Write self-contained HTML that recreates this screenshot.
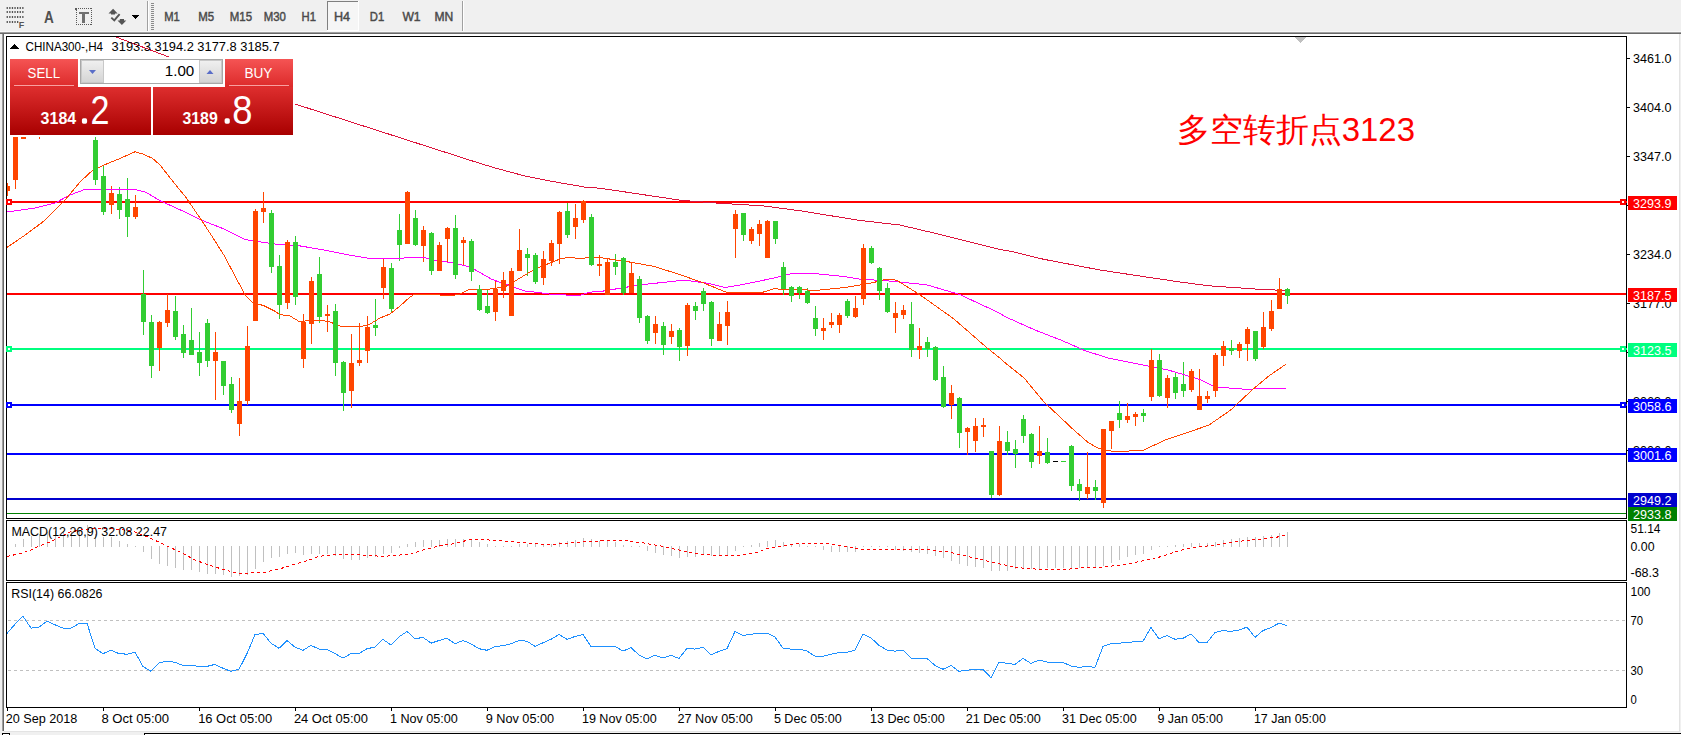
<!DOCTYPE html>
<html><head><meta charset="utf-8"><style>
html,body{margin:0;padding:0;background:#f0f0f0;}
body{width:1681px;height:735px;overflow:hidden;}
svg{display:block;font-family:'Liberation Sans',sans-serif;}
text{font-family:'Liberation Sans',sans-serif;}
</style></head><body>
<svg width="1681" height="735" viewBox="0 0 1681 735" shape-rendering="crispEdges">
<rect x="0" y="0" width="1681" height="735" fill="#f0f0f0" />
<rect x="4" y="34" width="1675" height="697" fill="#ffffff" />
<rect x="2" y="34" width="1" height="697" fill="#a0a0a0" />
<rect x="3" y="34" width="1" height="697" fill="#696969" />
<rect x="0" y="31" width="1681" height="1" fill="#f8f8f8" />
<rect x="0" y="32" width="1681" height="1" fill="#a0a0a0" />
<rect x="0" y="33" width="1681" height="1" fill="#696969" />
<rect x="1679" y="34" width="1" height="697" fill="#e3e3e3" />
<rect x="4" y="731" width="1676" height="1" fill="#e3e3e3" />
<rect x="0" y="732" width="1681" height="3" fill="#f0f0f0" />
<rect x="2" y="733" width="8" height="1" fill="#000" />
<rect x="2" y="733" width="1" height="2" fill="#000" />
<rect x="9" y="733" width="1" height="2" fill="#000" />
<rect x="3" y="734" width="6" height="1" fill="#fff" />
<rect x="144" y="733" width="1537" height="1" fill="#000" />
<rect x="144" y="733" width="1" height="2" fill="#000" />
<rect x="145" y="734" width="1536" height="1" fill="#fff" />
<rect x="6.6" y="7" width="1.3" height="2" fill="#555" shape-rendering="auto"/>
<rect x="9.2" y="7" width="1.3" height="2" fill="#555" shape-rendering="auto"/>
<rect x="11.8" y="7" width="1.3" height="2" fill="#555" shape-rendering="auto"/>
<rect x="14.4" y="7" width="1.3" height="2" fill="#555" shape-rendering="auto"/>
<rect x="17.0" y="7" width="1.3" height="2" fill="#555" shape-rendering="auto"/>
<rect x="19.6" y="7" width="1.3" height="2" fill="#555" shape-rendering="auto"/>
<rect x="22.2" y="7" width="1.3" height="2" fill="#555" shape-rendering="auto"/>
<rect x="6.6" y="11" width="1.3" height="2" fill="#555" shape-rendering="auto"/>
<rect x="9.2" y="11" width="1.3" height="2" fill="#555" shape-rendering="auto"/>
<rect x="11.8" y="11" width="1.3" height="2" fill="#555" shape-rendering="auto"/>
<rect x="14.4" y="11" width="1.3" height="2" fill="#555" shape-rendering="auto"/>
<rect x="17.0" y="11" width="1.3" height="2" fill="#555" shape-rendering="auto"/>
<rect x="19.6" y="11" width="1.3" height="2" fill="#555" shape-rendering="auto"/>
<rect x="22.2" y="11" width="1.3" height="2" fill="#555" shape-rendering="auto"/>
<rect x="6.6" y="16" width="1.3" height="2" fill="#555" shape-rendering="auto"/>
<rect x="9.2" y="16" width="1.3" height="2" fill="#555" shape-rendering="auto"/>
<rect x="11.8" y="16" width="1.3" height="2" fill="#555" shape-rendering="auto"/>
<rect x="14.4" y="16" width="1.3" height="2" fill="#555" shape-rendering="auto"/>
<rect x="17.0" y="16" width="1.3" height="2" fill="#555" shape-rendering="auto"/>
<rect x="19.6" y="16" width="1.3" height="2" fill="#555" shape-rendering="auto"/>
<rect x="22.2" y="16" width="1.3" height="2" fill="#555" shape-rendering="auto"/>
<rect x="6.6" y="21" width="1.3" height="2" fill="#555" shape-rendering="auto"/>
<rect x="9.2" y="21" width="1.3" height="2" fill="#555" shape-rendering="auto"/>
<rect x="11.8" y="21" width="1.3" height="2" fill="#555" shape-rendering="auto"/>
<rect x="14.4" y="21" width="1.3" height="2" fill="#555" shape-rendering="auto"/>
<rect x="17.0" y="21" width="1.3" height="2" fill="#555" shape-rendering="auto"/>
<text x="18.8" y="27.6" font-size="9.5" fill="#555" textLength="5.5" lengthAdjust="spacingAndGlyphs" font-weight="bold" >F</text>
<text x="44" y="22.8" font-size="16.3" fill="#505050" textLength="9.8" lengthAdjust="spacingAndGlyphs" font-weight="bold" >A</text>
<rect x="76" y="8" width="1" height="1.3" fill="#5a5a5a" />
<rect x="76" y="24" width="1" height="1.3" fill="#5a5a5a" />
<rect x="78" y="8" width="1" height="1.3" fill="#5a5a5a" />
<rect x="78" y="24" width="1" height="1.3" fill="#5a5a5a" />
<rect x="80" y="8" width="1" height="1.3" fill="#5a5a5a" />
<rect x="80" y="24" width="1" height="1.3" fill="#5a5a5a" />
<rect x="82" y="8" width="1" height="1.3" fill="#5a5a5a" />
<rect x="82" y="24" width="1" height="1.3" fill="#5a5a5a" />
<rect x="84" y="8" width="1" height="1.3" fill="#5a5a5a" />
<rect x="84" y="24" width="1" height="1.3" fill="#5a5a5a" />
<rect x="86" y="8" width="1" height="1.3" fill="#5a5a5a" />
<rect x="86" y="24" width="1" height="1.3" fill="#5a5a5a" />
<rect x="88" y="8" width="1" height="1.3" fill="#5a5a5a" />
<rect x="88" y="24" width="1" height="1.3" fill="#5a5a5a" />
<rect x="90" y="8" width="1" height="1.3" fill="#5a5a5a" />
<rect x="90" y="24" width="1" height="1.3" fill="#5a5a5a" />
<rect x="76" y="8" width="1.3" height="1" fill="#5a5a5a" />
<rect x="90.5" y="8" width="1.3" height="1" fill="#5a5a5a" />
<rect x="76" y="10" width="1.3" height="1" fill="#5a5a5a" />
<rect x="90.5" y="10" width="1.3" height="1" fill="#5a5a5a" />
<rect x="76" y="12" width="1.3" height="1" fill="#5a5a5a" />
<rect x="90.5" y="12" width="1.3" height="1" fill="#5a5a5a" />
<rect x="76" y="14" width="1.3" height="1" fill="#5a5a5a" />
<rect x="90.5" y="14" width="1.3" height="1" fill="#5a5a5a" />
<rect x="76" y="16" width="1.3" height="1" fill="#5a5a5a" />
<rect x="90.5" y="16" width="1.3" height="1" fill="#5a5a5a" />
<rect x="76" y="18" width="1.3" height="1" fill="#5a5a5a" />
<rect x="90.5" y="18" width="1.3" height="1" fill="#5a5a5a" />
<rect x="76" y="20" width="1.3" height="1" fill="#5a5a5a" />
<rect x="90.5" y="20" width="1.3" height="1" fill="#5a5a5a" />
<rect x="76" y="22" width="1.3" height="1" fill="#5a5a5a" />
<rect x="90.5" y="22" width="1.3" height="1" fill="#5a5a5a" />
<rect x="76" y="24" width="1.3" height="1" fill="#5a5a5a" />
<rect x="90.5" y="24" width="1.3" height="1" fill="#5a5a5a" />
<rect x="75" y="7.5" width="2" height="2" fill="#5a5a5a" />
<rect x="78.5" y="12" width="10" height="2" fill="#707070" />
<rect x="82.3" y="12" width="2.8" height="10.5" fill="#707070" />
<path d="M108.5 13.6 L113.1 8.8 L117.6 13.6 L115 13.6 L115 14.6 L111 14.6 L111 13.6 Z" fill="#555" shape-rendering="auto"/>
<path d="M119.8 18.9 L124 18.9 L124 20.4 L126.3 20.4 L121.9 25 L117.5 20.4 L119.8 20.4 Z" fill="#555" shape-rendering="auto"/>
<path d="M111.3 17.6 L114.3 20.4 L119.6 14.1" stroke="#555" stroke-width="1.9" fill="none" shape-rendering="auto"/>
<path d="M132 15 L139 15 L135.5 19 Z" fill="#000"/>
<rect x="147" y="1" width="1" height="30" fill="#a0a0a0" />
<rect x="148" y="1" width="1" height="30" fill="#ffffff" />
<rect x="151" y="3" width="3" height="1" fill="#8a8a8a" />
<rect x="151" y="5" width="3" height="1" fill="#8a8a8a" />
<rect x="151" y="7" width="3" height="1" fill="#8a8a8a" />
<rect x="151" y="9" width="3" height="1" fill="#8a8a8a" />
<rect x="151" y="11" width="3" height="1" fill="#8a8a8a" />
<rect x="151" y="13" width="3" height="1" fill="#8a8a8a" />
<rect x="151" y="15" width="3" height="1" fill="#8a8a8a" />
<rect x="151" y="17" width="3" height="1" fill="#8a8a8a" />
<rect x="151" y="19" width="3" height="1" fill="#8a8a8a" />
<rect x="151" y="21" width="3" height="1" fill="#8a8a8a" />
<rect x="151" y="23" width="3" height="1" fill="#8a8a8a" />
<rect x="151" y="25" width="3" height="1" fill="#8a8a8a" />
<rect x="151" y="27" width="3" height="1" fill="#8a8a8a" />
<rect x="151" y="29" width="3" height="1" fill="#8a8a8a" />
<rect x="327" y="1" width="31" height="29" fill="#f6f6f6" />
<rect x="327" y="1" width="31" height="1" fill="#808080" />
<rect x="327" y="1" width="1" height="29" fill="#808080" />
<rect x="327" y="30" width="32" height="1" fill="#ffffff" />
<rect x="358" y="1" width="1" height="30" fill="#ffffff" />
<text x="164.2" y="21.3" font-size="12.5" fill="#4a4a4a" textLength="15.6" lengthAdjust="spacingAndGlyphs" stroke="#4a4a4a" stroke-width="0.45">M1</text>
<text x="198.3" y="21.3" font-size="12.5" fill="#4a4a4a" textLength="15.9" lengthAdjust="spacingAndGlyphs" stroke="#4a4a4a" stroke-width="0.45">M5</text>
<text x="229.8" y="21.3" font-size="12.5" fill="#4a4a4a" textLength="22.3" lengthAdjust="spacingAndGlyphs" stroke="#4a4a4a" stroke-width="0.45">M15</text>
<text x="263.75" y="21.3" font-size="12.5" fill="#4a4a4a" textLength="22.2" lengthAdjust="spacingAndGlyphs" stroke="#4a4a4a" stroke-width="0.45">M30</text>
<text x="301.6" y="21.3" font-size="12.5" fill="#4a4a4a" textLength="14.4" lengthAdjust="spacingAndGlyphs" stroke="#4a4a4a" stroke-width="0.45">H1</text>
<text x="333.9" y="21.3" font-size="12.5" fill="#4a4a4a" textLength="16.1" lengthAdjust="spacingAndGlyphs" stroke="#4a4a4a" stroke-width="0.45">H4</text>
<text x="369.8" y="21.3" font-size="12.5" fill="#4a4a4a" textLength="14.4" lengthAdjust="spacingAndGlyphs" stroke="#4a4a4a" stroke-width="0.45">D1</text>
<text x="402.4" y="21.3" font-size="12.5" fill="#4a4a4a" textLength="18.2" lengthAdjust="spacingAndGlyphs" stroke="#4a4a4a" stroke-width="0.45">W1</text>
<text x="434.5" y="21.3" font-size="12.5" fill="#4a4a4a" textLength="18.8" lengthAdjust="spacingAndGlyphs" stroke="#4a4a4a" stroke-width="0.45">MN</text>
<rect x="462" y="1" width="1" height="30" fill="#a0a0a0" />
<rect x="463" y="1" width="1" height="30" fill="#ffffff" />
<rect x="6.5" y="36.5" width="1620" height="482" fill="#fff" stroke="#000" stroke-width="1"/>
<rect x="6.5" y="520.5" width="1620" height="60" fill="#fff" stroke="#000" stroke-width="1"/>
<rect x="6.5" y="582.5" width="1620" height="125" fill="#fff" stroke="#000" stroke-width="1"/>
<defs><clipPath id="cm"><rect x="7" y="37" width="1619" height="481"/></clipPath><clipPath id="cd"><rect x="7" y="521" width="1619" height="59"/></clipPath><clipPath id="cr"><rect x="7" y="583" width="1619" height="124"/></clipPath></defs>
<g clip-path="url(#cm)">
<rect x="7" y="201" width="1619" height="2" fill="#ff0000" />
<rect x="7" y="293" width="1619" height="2" fill="#ff0000" />
<rect x="7" y="348" width="1619" height="2" fill="#00ff7f" />
<rect x="7" y="404" width="1619" height="2" fill="#0000ff" />
<rect x="7" y="453" width="1619" height="2" fill="#0000ff" />
<rect x="7" y="498" width="1619" height="2" fill="#0000cd" />
<rect x="7" y="513" width="1619" height="1" fill="#008000" />
<rect x="7" y="183" width="1" height="13" fill="#ff4500" />
<rect x="15" y="137" width="1" height="52" fill="#ff4500" />
<rect x="23" y="118" width="1" height="21" fill="#ff4500" />
<rect x="39" y="118" width="1" height="21" fill="#ff4500" />
<rect x="95" y="137" width="1" height="48" fill="#32cd32" />
<rect x="103" y="165" width="1" height="50" fill="#32cd32" />
<rect x="111" y="186" width="1" height="28" fill="#ff4500" />
<rect x="119" y="187" width="1" height="32" fill="#32cd32" />
<rect x="127" y="178" width="1" height="59" fill="#32cd32" />
<rect x="135" y="195" width="1" height="24" fill="#ff4500" />
<rect x="143" y="270" width="1" height="65" fill="#32cd32" />
<rect x="151" y="315" width="1" height="63" fill="#32cd32" />
<rect x="159" y="321" width="1" height="50" fill="#ff4500" />
<rect x="167" y="294" width="1" height="33" fill="#ff4500" />
<rect x="175" y="296" width="1" height="44" fill="#32cd32" />
<rect x="183" y="325" width="1" height="33" fill="#32cd32" />
<rect x="191" y="308" width="1" height="47" fill="#32cd32" />
<rect x="199" y="332" width="1" height="44" fill="#32cd32" />
<rect x="207" y="319" width="1" height="48" fill="#32cd32" />
<rect x="215" y="332" width="1" height="68" fill="#ff4500" />
<rect x="223" y="361" width="1" height="34" fill="#32cd32" />
<rect x="231" y="377" width="1" height="36" fill="#32cd32" />
<rect x="239" y="378" width="1" height="58" fill="#ff4500" />
<rect x="247" y="326" width="1" height="79" fill="#ff4500" />
<rect x="255" y="209" width="1" height="112" fill="#ff4500" />
<rect x="263" y="192" width="1" height="31" fill="#ff4500" />
<rect x="271" y="210" width="1" height="63" fill="#32cd32" />
<rect x="279" y="255" width="1" height="64" fill="#32cd32" />
<rect x="287" y="240" width="1" height="69" fill="#ff4500" />
<rect x="295" y="236" width="1" height="69" fill="#32cd32" />
<rect x="303" y="314" width="1" height="54" fill="#ff4500" />
<rect x="311" y="277" width="1" height="67" fill="#ff4500" />
<rect x="319" y="257" width="1" height="66" fill="#32cd32" />
<rect x="327" y="305" width="1" height="27" fill="#ff4500" />
<rect x="335" y="304" width="1" height="72" fill="#32cd32" />
<rect x="343" y="361" width="1" height="50" fill="#32cd32" />
<rect x="351" y="334" width="1" height="74" fill="#ff4500" />
<rect x="359" y="323" width="1" height="43" fill="#ff4500" />
<rect x="367" y="316" width="1" height="47" fill="#ff4500" />
<rect x="375" y="299" width="1" height="37" fill="#32cd32" />
<rect x="383" y="258" width="1" height="41" fill="#ff4500" />
<rect x="391" y="263" width="1" height="49" fill="#32cd32" />
<rect x="399" y="214" width="1" height="47" fill="#32cd32" />
<rect x="407" y="191" width="1" height="53" fill="#ff4500" />
<rect x="415" y="210" width="1" height="36" fill="#32cd32" />
<rect x="423" y="226" width="1" height="36" fill="#ff4500" />
<rect x="431" y="232" width="1" height="43" fill="#32cd32" />
<rect x="439" y="242" width="1" height="29" fill="#ff4500" />
<rect x="447" y="227" width="1" height="35" fill="#ff4500" />
<rect x="455" y="215" width="1" height="64" fill="#32cd32" />
<rect x="463" y="237" width="1" height="29" fill="#ff4500" />
<rect x="471" y="239" width="1" height="42" fill="#32cd32" />
<rect x="479" y="285" width="1" height="26" fill="#32cd32" />
<rect x="487" y="290" width="1" height="24" fill="#32cd32" />
<rect x="495" y="281" width="1" height="40" fill="#ff4500" />
<rect x="503" y="272" width="1" height="26" fill="#ff4500" />
<rect x="511" y="268" width="1" height="48" fill="#ff4500" />
<rect x="519" y="229" width="1" height="42" fill="#ff4500" />
<rect x="527" y="248" width="1" height="28" fill="#32cd32" />
<rect x="535" y="253" width="1" height="31" fill="#32cd32" />
<rect x="543" y="251" width="1" height="34" fill="#ff4500" />
<rect x="551" y="240" width="1" height="26" fill="#ff4500" />
<rect x="559" y="211" width="1" height="53" fill="#ff4500" />
<rect x="567" y="203" width="1" height="35" fill="#32cd32" />
<rect x="575" y="204" width="1" height="35" fill="#ff4500" />
<rect x="583" y="200" width="1" height="23" fill="#ff4500" />
<rect x="591" y="214" width="1" height="52" fill="#32cd32" />
<rect x="599" y="255" width="1" height="21" fill="#ff4500" />
<rect x="607" y="258" width="1" height="37" fill="#ff4500" />
<rect x="615" y="254" width="1" height="21" fill="#32cd32" />
<rect x="623" y="257" width="1" height="38" fill="#32cd32" />
<rect x="631" y="263" width="1" height="30" fill="#ff4500" />
<rect x="639" y="276" width="1" height="47" fill="#32cd32" />
<rect x="647" y="315" width="1" height="29" fill="#32cd32" />
<rect x="655" y="316" width="1" height="28" fill="#ff4500" />
<rect x="663" y="322" width="1" height="33" fill="#32cd32" />
<rect x="671" y="324" width="1" height="20" fill="#ff4500" />
<rect x="679" y="328" width="1" height="33" fill="#32cd32" />
<rect x="687" y="303" width="1" height="53" fill="#ff4500" />
<rect x="695" y="302" width="1" height="18" fill="#32cd32" />
<rect x="703" y="288" width="1" height="23" fill="#32cd32" />
<rect x="711" y="301" width="1" height="45" fill="#32cd32" />
<rect x="719" y="312" width="1" height="29" fill="#ff4500" />
<rect x="727" y="301" width="1" height="44" fill="#ff4500" />
<rect x="735" y="210" width="1" height="48" fill="#ff4500" />
<rect x="743" y="213" width="1" height="28" fill="#32cd32" />
<rect x="751" y="227" width="1" height="17" fill="#ff4500" />
<rect x="759" y="220" width="1" height="26" fill="#ff4500" />
<rect x="767" y="220" width="1" height="38" fill="#ff4500" />
<rect x="775" y="221" width="1" height="23" fill="#32cd32" />
<rect x="783" y="262" width="1" height="33" fill="#32cd32" />
<rect x="791" y="286" width="1" height="16" fill="#32cd32" />
<rect x="799" y="286" width="1" height="13" fill="#32cd32" />
<rect x="807" y="288" width="1" height="16" fill="#32cd32" />
<rect x="815" y="306" width="1" height="30" fill="#32cd32" />
<rect x="823" y="318" width="1" height="22" fill="#ff4500" />
<rect x="831" y="313" width="1" height="15" fill="#ff4500" />
<rect x="839" y="313" width="1" height="20" fill="#ff4500" />
<rect x="847" y="299" width="1" height="19" fill="#32cd32" />
<rect x="855" y="296" width="1" height="22" fill="#ff4500" />
<rect x="863" y="244" width="1" height="61" fill="#ff4500" />
<rect x="871" y="246" width="1" height="18" fill="#32cd32" />
<rect x="879" y="267" width="1" height="33" fill="#32cd32" />
<rect x="887" y="283" width="1" height="30" fill="#32cd32" />
<rect x="895" y="302" width="1" height="31" fill="#ff4500" />
<rect x="903" y="305" width="1" height="14" fill="#ff4500" />
<rect x="911" y="302" width="1" height="55" fill="#32cd32" />
<rect x="919" y="328" width="1" height="31" fill="#ff4500" />
<rect x="927" y="337" width="1" height="20" fill="#32cd32" />
<rect x="935" y="346" width="1" height="35" fill="#32cd32" />
<rect x="943" y="366" width="1" height="42" fill="#32cd32" />
<rect x="951" y="385" width="1" height="34" fill="#ff4500" />
<rect x="959" y="397" width="1" height="51" fill="#32cd32" />
<rect x="967" y="427" width="1" height="28" fill="#ff4500" />
<rect x="975" y="418" width="1" height="34" fill="#ff4500" />
<rect x="983" y="418" width="1" height="19" fill="#ff4500" />
<rect x="991" y="451" width="1" height="47" fill="#32cd32" />
<rect x="999" y="426" width="1" height="70" fill="#ff4500" />
<rect x="1007" y="431" width="1" height="24" fill="#32cd32" />
<rect x="1015" y="440" width="1" height="28" fill="#32cd32" />
<rect x="1023" y="415" width="1" height="28" fill="#32cd32" />
<rect x="1031" y="433" width="1" height="35" fill="#32cd32" />
<rect x="1039" y="426" width="1" height="38" fill="#ff4500" />
<rect x="1047" y="438" width="1" height="26" fill="#32cd32" />
<rect x="1071" y="445" width="1" height="46" fill="#32cd32" />
<rect x="1079" y="479" width="1" height="22" fill="#32cd32" />
<rect x="1087" y="452" width="1" height="47" fill="#ff4500" />
<rect x="1095" y="480" width="1" height="20" fill="#32cd32" />
<rect x="1103" y="429" width="1" height="79" fill="#ff4500" />
<rect x="1111" y="421" width="1" height="28" fill="#ff4500" />
<rect x="1119" y="401" width="1" height="27" fill="#32cd32" />
<rect x="1127" y="403" width="1" height="20" fill="#ff4500" />
<rect x="1135" y="412" width="1" height="14" fill="#ff4500" />
<rect x="1143" y="409" width="1" height="13" fill="#32cd32" />
<rect x="1151" y="349" width="1" height="52" fill="#ff4500" />
<rect x="1159" y="354" width="1" height="43" fill="#32cd32" />
<rect x="1167" y="375" width="1" height="33" fill="#ff4500" />
<rect x="1175" y="372" width="1" height="27" fill="#32cd32" />
<rect x="1183" y="362" width="1" height="35" fill="#32cd32" />
<rect x="1191" y="369" width="1" height="23" fill="#ff4500" />
<rect x="1199" y="369" width="1" height="41" fill="#ff4500" />
<rect x="1207" y="391" width="1" height="12" fill="#ff4500" />
<rect x="1215" y="353" width="1" height="44" fill="#ff4500" />
<rect x="1223" y="341" width="1" height="25" fill="#ff4500" />
<rect x="1231" y="340" width="1" height="15" fill="#32cd32" />
<rect x="1239" y="342" width="1" height="16" fill="#ff4500" />
<rect x="1247" y="327" width="1" height="34" fill="#ff4500" />
<rect x="1255" y="331" width="1" height="30" fill="#32cd32" />
<rect x="1263" y="312" width="1" height="37" fill="#ff4500" />
<rect x="1271" y="300" width="1" height="31" fill="#ff4500" />
<rect x="1279" y="278" width="1" height="31" fill="#ff4500" />
<rect x="1287" y="288" width="1" height="16" fill="#32cd32" />
<polyline points="96,30 116,37 169,57 295,104 480,163.4 497.9,168.75 524.6,175.9 551.4,181.25 587.1,187.5 600,188.2 681.6,200.4 717,203.1 763.3,205.9 804,211.3 858.5,220.3 899.3,224.9 940,234.4 1000,249.4 1013.3,251.8 1040.5,258.6 1050,260.5 1100,270 1127.2,274.1 1154.4,278.2 1181.6,282.2 1208.8,285.8 1236.1,287.7 1263.3,289.6 1286,290.4" fill="none" stroke="#dc143c" stroke-width="1" />
<polyline points="7,212 35,208 55,203 70,195 85,189.4 135,189.4 145,192 150,194.7 160,200.75 185.9,212.4 201.4,220.1 224.6,229.2 245.3,239.5 253,240.8 280,244.7 296.3,245.3 320.8,249.4 348,254.8 372.5,258.9 399.7,258.9 407.9,257 421.5,257 435.1,260.3 454.1,263 470.5,267.1 491.8,279.3 510.8,286.1 527.1,291.6 535.3,292.1 551.6,294.3 578.8,295.6 589.7,292.1 600,291.6 640.8,284.8 684.4,280.1 708.8,283.4 725.2,287.5 741.5,284.8 774.1,278 790.5,273.9 817.7,273.9 844.9,276.6 861.2,279.3 885.7,280.7 926.5,284.8 959.2,294.3 1000,313.3 1004.8,316.5 1034.7,329.9 1061.7,340.4 1085.6,350.9 1109.6,358.4 1139.5,364.4 1169.5,370.4 1199.4,379.3 1214.4,386.8 1244.3,389.2 1286.2,388.3" fill="none" stroke="#ff00ff" stroke-width="1" />
<polyline points="6,248 26,234.5 43.5,221.4 65.3,199.6 80,182 91.4,171.4 104.5,164.8 120,158.5 135,151.8 143,154 152.4,158.3 160,165 172.9,181.4 185.9,197.4 198.8,216.3 211.7,235.7 224.6,256.3 237.6,280.9 245.3,295.1 253,302.9 263.4,305.5 273.8,310.6 280,314.5 290,316 300,322 310,320 320,320 330,322 340,326 350,326.5 360,327 370,324 380,318 390,314 400,306 410,297 415,294 430,294 440,295 450,296 460,294 470,289 490,289 505,287 520,278 535,269 550,263 560,259 570,257 580,259 590,257 600,257.6 627.2,261.6 654.4,266.5 681.6,275.2 703.4,282.9 727.9,292.9 760.5,292.9 774.1,288.8 790.5,289.7 817.7,290.2 844.9,287.5 872.1,282.9 885.7,279.3 896.6,280.1 921.1,295.6 953.7,318.8 986.4,347.3 1000,358.2 1002.4,360.6 1024.1,378 1044.8,402.9 1058.1,415.2 1073.3,429.5 1088.6,442.9 1098,448 1107.6,450.5 1116.3,451.8 1143.5,450.1 1165.3,440 1187,432.7 1208.8,425.1 1230.6,410.1 1252.4,389.7 1268.7,376.1 1286.4,363.9" fill="none" stroke="#ff4500" stroke-width="1" />
<rect x="5" y="186" width="5" height="5" fill="#ff4500" />
<rect x="13" y="137" width="5" height="43" fill="#ff4500" />
<rect x="21" y="120" width="5" height="19" fill="#ff4500" />
<rect x="37" y="120" width="5" height="6" fill="#ff4500" />
<rect x="93" y="140" width="5" height="40" fill="#32cd32" />
<rect x="101" y="176" width="5" height="36" fill="#32cd32" />
<rect x="109" y="193" width="5" height="12" fill="#ff4500" />
<rect x="117" y="194" width="5" height="16" fill="#32cd32" />
<rect x="125" y="199" width="5" height="18" fill="#32cd32" />
<rect x="133" y="207" width="5" height="10" fill="#ff4500" />
<rect x="141" y="294" width="5" height="28" fill="#32cd32" />
<rect x="149" y="322" width="5" height="44" fill="#32cd32" />
<rect x="157" y="322" width="5" height="26" fill="#ff4500" />
<rect x="165" y="310" width="5" height="13" fill="#ff4500" />
<rect x="173" y="311" width="5" height="26" fill="#32cd32" />
<rect x="181" y="334" width="5" height="19" fill="#32cd32" />
<rect x="189" y="340" width="5" height="15" fill="#32cd32" />
<rect x="197" y="352" width="5" height="11" fill="#32cd32" />
<rect x="205" y="323" width="5" height="38" fill="#32cd32" />
<rect x="213" y="352" width="5" height="9" fill="#ff4500" />
<rect x="221" y="361" width="5" height="25" fill="#32cd32" />
<rect x="229" y="384" width="5" height="26" fill="#32cd32" />
<rect x="237" y="401" width="5" height="23" fill="#ff4500" />
<rect x="245" y="346" width="5" height="55" fill="#ff4500" />
<rect x="253" y="211" width="5" height="110" fill="#ff4500" />
<rect x="261" y="208" width="5" height="4" fill="#ff4500" />
<rect x="269" y="213" width="5" height="54" fill="#32cd32" />
<rect x="277" y="266" width="5" height="39" fill="#32cd32" />
<rect x="285" y="242" width="5" height="61" fill="#ff4500" />
<rect x="293" y="242" width="5" height="55" fill="#32cd32" />
<rect x="301" y="322" width="5" height="37" fill="#ff4500" />
<rect x="309" y="281" width="5" height="43" fill="#ff4500" />
<rect x="317" y="274" width="5" height="43" fill="#32cd32" />
<rect x="325" y="314" width="5" height="2" fill="#ff4500" />
<rect x="333" y="311" width="5" height="52" fill="#32cd32" />
<rect x="341" y="362" width="5" height="31" fill="#32cd32" />
<rect x="349" y="363" width="5" height="28" fill="#ff4500" />
<rect x="357" y="360" width="5" height="3" fill="#ff4500" />
<rect x="365" y="327" width="5" height="24" fill="#ff4500" />
<rect x="373" y="325" width="5" height="3" fill="#32cd32" />
<rect x="381" y="267" width="5" height="21" fill="#ff4500" />
<rect x="389" y="268" width="5" height="41" fill="#32cd32" />
<rect x="397" y="230" width="5" height="15" fill="#32cd32" />
<rect x="405" y="192" width="5" height="52" fill="#ff4500" />
<rect x="413" y="218" width="5" height="27" fill="#32cd32" />
<rect x="421" y="230" width="5" height="16" fill="#ff4500" />
<rect x="429" y="233" width="5" height="38" fill="#32cd32" />
<rect x="437" y="245" width="5" height="26" fill="#ff4500" />
<rect x="445" y="228" width="5" height="11" fill="#ff4500" />
<rect x="453" y="228" width="5" height="47" fill="#32cd32" />
<rect x="461" y="240" width="5" height="3" fill="#ff4500" />
<rect x="469" y="241" width="5" height="31" fill="#32cd32" />
<rect x="477" y="289" width="5" height="21" fill="#32cd32" />
<rect x="485" y="306" width="5" height="7" fill="#32cd32" />
<rect x="493" y="289" width="5" height="23" fill="#ff4500" />
<rect x="501" y="280" width="5" height="11" fill="#ff4500" />
<rect x="509" y="271" width="5" height="45" fill="#ff4500" />
<rect x="517" y="250" width="5" height="21" fill="#ff4500" />
<rect x="525" y="254" width="5" height="4" fill="#32cd32" />
<rect x="533" y="255" width="5" height="27" fill="#32cd32" />
<rect x="541" y="259" width="5" height="19" fill="#ff4500" />
<rect x="549" y="243" width="5" height="18" fill="#ff4500" />
<rect x="557" y="212" width="5" height="32" fill="#ff4500" />
<rect x="565" y="211" width="5" height="24" fill="#32cd32" />
<rect x="573" y="218" width="5" height="9" fill="#ff4500" />
<rect x="581" y="201" width="5" height="19" fill="#ff4500" />
<rect x="589" y="217" width="5" height="48" fill="#32cd32" />
<rect x="597" y="264" width="5" height="2" fill="#ff4500" />
<rect x="605" y="262" width="5" height="33" fill="#ff4500" />
<rect x="613" y="262" width="5" height="5" fill="#32cd32" />
<rect x="621" y="258" width="5" height="35" fill="#32cd32" />
<rect x="629" y="273" width="5" height="20" fill="#ff4500" />
<rect x="637" y="279" width="5" height="39" fill="#32cd32" />
<rect x="645" y="316" width="5" height="25" fill="#32cd32" />
<rect x="653" y="324" width="5" height="9" fill="#ff4500" />
<rect x="661" y="326" width="5" height="19" fill="#32cd32" />
<rect x="669" y="331" width="5" height="6" fill="#ff4500" />
<rect x="677" y="330" width="5" height="17" fill="#32cd32" />
<rect x="685" y="305" width="5" height="41" fill="#ff4500" />
<rect x="693" y="306" width="5" height="5" fill="#32cd32" />
<rect x="701" y="291" width="5" height="13" fill="#32cd32" />
<rect x="709" y="302" width="5" height="37" fill="#32cd32" />
<rect x="717" y="324" width="5" height="17" fill="#ff4500" />
<rect x="725" y="312" width="5" height="14" fill="#ff4500" />
<rect x="733" y="214" width="5" height="15" fill="#ff4500" />
<rect x="741" y="213" width="5" height="22" fill="#32cd32" />
<rect x="749" y="229" width="5" height="12" fill="#ff4500" />
<rect x="757" y="224" width="5" height="10" fill="#ff4500" />
<rect x="765" y="221" width="5" height="37" fill="#ff4500" />
<rect x="773" y="221" width="5" height="18" fill="#32cd32" />
<rect x="781" y="267" width="5" height="22" fill="#32cd32" />
<rect x="789" y="287" width="5" height="9" fill="#32cd32" />
<rect x="797" y="287" width="5" height="6" fill="#32cd32" />
<rect x="805" y="291" width="5" height="12" fill="#32cd32" />
<rect x="813" y="318" width="5" height="11" fill="#32cd32" />
<rect x="821" y="328" width="5" height="3" fill="#ff4500" />
<rect x="829" y="322" width="5" height="3" fill="#ff4500" />
<rect x="837" y="315" width="5" height="10" fill="#ff4500" />
<rect x="845" y="301" width="5" height="15" fill="#32cd32" />
<rect x="853" y="308" width="5" height="9" fill="#ff4500" />
<rect x="861" y="248" width="5" height="51" fill="#ff4500" />
<rect x="869" y="248" width="5" height="15" fill="#32cd32" />
<rect x="877" y="268" width="5" height="23" fill="#32cd32" />
<rect x="885" y="288" width="5" height="24" fill="#32cd32" />
<rect x="893" y="313" width="5" height="5" fill="#ff4500" />
<rect x="901" y="310" width="5" height="5" fill="#ff4500" />
<rect x="909" y="324" width="5" height="26" fill="#32cd32" />
<rect x="917" y="346" width="5" height="4" fill="#ff4500" />
<rect x="925" y="342" width="5" height="7" fill="#32cd32" />
<rect x="933" y="347" width="5" height="33" fill="#32cd32" />
<rect x="941" y="377" width="5" height="30" fill="#32cd32" />
<rect x="949" y="393" width="5" height="12" fill="#ff4500" />
<rect x="957" y="398" width="5" height="35" fill="#32cd32" />
<rect x="965" y="428" width="5" height="4" fill="#ff4500" />
<rect x="973" y="426" width="5" height="15" fill="#ff4500" />
<rect x="981" y="425" width="5" height="2" fill="#ff4500" />
<rect x="989" y="451" width="5" height="44" fill="#32cd32" />
<rect x="997" y="441" width="5" height="54" fill="#ff4500" />
<rect x="1005" y="442" width="5" height="9" fill="#32cd32" />
<rect x="1013" y="449" width="5" height="5" fill="#32cd32" />
<rect x="1021" y="419" width="5" height="17" fill="#32cd32" />
<rect x="1029" y="434" width="5" height="28" fill="#32cd32" />
<rect x="1037" y="451" width="5" height="5" fill="#ff4500" />
<rect x="1045" y="452" width="5" height="11" fill="#32cd32" />
<rect x="1053" y="461" width="5" height="1" fill="#000000" />
<rect x="1061" y="461" width="5" height="1" fill="#32cd32" />
<rect x="1069" y="446" width="5" height="40" fill="#32cd32" />
<rect x="1077" y="484" width="5" height="7" fill="#32cd32" />
<rect x="1085" y="487" width="5" height="7" fill="#ff4500" />
<rect x="1093" y="487" width="5" height="4" fill="#32cd32" />
<rect x="1101" y="429" width="5" height="74" fill="#ff4500" />
<rect x="1109" y="421" width="5" height="10" fill="#ff4500" />
<rect x="1117" y="413" width="5" height="7" fill="#32cd32" />
<rect x="1125" y="416" width="5" height="4" fill="#ff4500" />
<rect x="1133" y="414" width="5" height="3" fill="#ff4500" />
<rect x="1141" y="413" width="5" height="3" fill="#32cd32" />
<rect x="1149" y="360" width="5" height="37" fill="#ff4500" />
<rect x="1157" y="360" width="5" height="36" fill="#32cd32" />
<rect x="1165" y="378" width="5" height="20" fill="#ff4500" />
<rect x="1173" y="377" width="5" height="16" fill="#32cd32" />
<rect x="1181" y="384" width="5" height="7" fill="#32cd32" />
<rect x="1189" y="371" width="5" height="19" fill="#ff4500" />
<rect x="1197" y="396" width="5" height="14" fill="#ff4500" />
<rect x="1205" y="396" width="5" height="3" fill="#ff4500" />
<rect x="1213" y="355" width="5" height="36" fill="#ff4500" />
<rect x="1221" y="346" width="5" height="10" fill="#ff4500" />
<rect x="1229" y="348" width="5" height="3" fill="#32cd32" />
<rect x="1237" y="344" width="5" height="7" fill="#ff4500" />
<rect x="1245" y="329" width="5" height="15" fill="#ff4500" />
<rect x="1253" y="331" width="5" height="28" fill="#32cd32" />
<rect x="1261" y="327" width="5" height="20" fill="#ff4500" />
<rect x="1269" y="311" width="5" height="18" fill="#ff4500" />
<rect x="1277" y="289" width="5" height="20" fill="#ff4500" />
<rect x="1285" y="289" width="5" height="7" fill="#32cd32" />
</g>
<rect x="1626" y="201" width="1" height="2" fill="#ff0000" />
<rect x="6" y="199" width="6" height="6" fill="#ff0000" />
<rect x="8" y="201" width="2" height="2" fill="#fff" />
<rect x="1620" y="199" width="6" height="6" fill="#ff0000" />
<rect x="1622" y="201" width="2" height="2" fill="#fff" />
<rect x="1626" y="348" width="1" height="2" fill="#00ff7f" />
<rect x="6" y="346" width="6" height="6" fill="#00ff7f" />
<rect x="8" y="348" width="2" height="2" fill="#fff" />
<rect x="1620" y="346" width="6" height="6" fill="#00ff7f" />
<rect x="1622" y="348" width="2" height="2" fill="#fff" />
<rect x="1626" y="404" width="1" height="2" fill="#0000ff" />
<rect x="6" y="402" width="6" height="6" fill="#0000ff" />
<rect x="8" y="404" width="2" height="2" fill="#fff" />
<rect x="1620" y="402" width="6" height="6" fill="#0000ff" />
<rect x="1622" y="404" width="2" height="2" fill="#fff" />
<text x="1177" y="141" font-size="33" fill="#ff0000" textLength="238" lengthAdjust="spacingAndGlyphs" >多空转折点3123</text>
<path d="M10 48.5 L14.5 44 L19 48.5 Z" fill="#000"/>
<text x="25.5" y="51" font-size="12" fill="#000" textLength="77.5" lengthAdjust="spacingAndGlyphs" >CHINA300-,H4</text>
<text x="111.6" y="51" font-size="12" fill="#000" textLength="168" lengthAdjust="spacingAndGlyphs" >3193.3 3194.2 3177.8 3185.7</text>
<path d="M1295 37 L1306 37 L1300.5 43 Z" fill="#c0c0c0"/>
<defs><linearGradient id="gsell" x1="0" y1="0" x2="0" y2="1"><stop offset="0" stop-color="#f55454"/><stop offset="1" stop-color="#dc2a2a"/></linearGradient><linearGradient id="gbid" x1="0" y1="0" x2="0" y2="1"><stop offset="0" stop-color="#de2e2e"/><stop offset="1" stop-color="#a80000"/></linearGradient><linearGradient id="gspin" x1="0" y1="0" x2="0" y2="1"><stop offset="0" stop-color="#f0f0f0"/><stop offset="1" stop-color="#d4d4d4"/></linearGradient></defs>
<rect x="8" y="57" width="287" height="80" fill="#ffffff" />
<rect x="10" y="59" width="68" height="28" fill="url(#gsell)" />
<rect x="225" y="59" width="68" height="28" fill="url(#gsell)" />
<rect x="14" y="85" width="60" height="1" fill="#f8a0a0" />
<rect x="229" y="85" width="60" height="1" fill="#f8a0a0" />
<text x="27.6" y="78.1" font-size="15.5" fill="#fff" textLength="32.4" lengthAdjust="spacingAndGlyphs" >SELL</text>
<text x="244.4" y="78.1" font-size="15.5" fill="#fff" textLength="28" lengthAdjust="spacingAndGlyphs" >BUY</text>
<rect x="80.5" y="59.5" width="142" height="24" fill="#fff" stroke="#a8a8a8"/>
<rect x="81.5" y="60.5" width="22" height="22" fill="url(#gspin)" stroke="#c8c8c8"/>
<rect x="199.5" y="60.5" width="22" height="22" fill="url(#gspin)" stroke="#c8c8c8"/>
<path d="M89 70 L96 70 L92.5 74 Z" fill="#5a6ec8" shape-rendering="auto"/>
<path d="M206.5 74 L213.5 74 L210 70 Z" fill="#5a6ec8" shape-rendering="auto"/>
<text x="164.8" y="76.3" font-size="15" fill="#000" textLength="29.5" lengthAdjust="spacingAndGlyphs" >1.00</text>
<rect x="10" y="87" width="141" height="48" fill="url(#gbid)" />
<rect x="153" y="87" width="140" height="48" fill="url(#gbid)" />
<text x="40.6" y="123.8" font-size="16" fill="#fff" textLength="35.6" lengthAdjust="spacingAndGlyphs" font-weight="bold" >3184</text>
<rect x="81.9" y="118.3" width="5.2" height="5.4" rx="1.6" fill="#fff" shape-rendering="auto"/>
<text x="90.6" y="123.8" font-size="41" fill="#fff" textLength="19" lengthAdjust="spacingAndGlyphs" >2</text>
<text x="182.5" y="123.8" font-size="16" fill="#fff" textLength="35.2" lengthAdjust="spacingAndGlyphs" font-weight="bold" >3189</text>
<rect x="224.6" y="118.3" width="5.2" height="5.4" rx="1.6" fill="#fff" shape-rendering="auto"/>
<text x="232.3" y="123.8" font-size="41" fill="#fff" textLength="20.2" lengthAdjust="spacingAndGlyphs" >8</text>
<rect x="1627" y="58" width="3" height="1" fill="#000" />
<text x="1633" y="62.5" font-size="12" fill="#000" textLength="38.4" lengthAdjust="spacingAndGlyphs" >3461.0</text>
<rect x="1627" y="107" width="3" height="1" fill="#000" />
<text x="1633" y="111.5" font-size="12" fill="#000" textLength="38.4" lengthAdjust="spacingAndGlyphs" >3404.0</text>
<rect x="1627" y="156" width="3" height="1" fill="#000" />
<text x="1633" y="160.5" font-size="12" fill="#000" textLength="38.4" lengthAdjust="spacingAndGlyphs" >3347.0</text>
<rect x="1627" y="205" width="3" height="1" fill="#000" />
<text x="1633" y="209.5" font-size="12" fill="#000" textLength="38.4" lengthAdjust="spacingAndGlyphs" >3290.0</text>
<rect x="1627" y="254" width="3" height="1" fill="#000" />
<text x="1633" y="258.5" font-size="12" fill="#000" textLength="38.4" lengthAdjust="spacingAndGlyphs" >3234.0</text>
<rect x="1627" y="303" width="3" height="1" fill="#000" />
<text x="1633" y="307.5" font-size="12" fill="#000" textLength="38.4" lengthAdjust="spacingAndGlyphs" >3177.0</text>
<rect x="1627" y="352" width="3" height="1" fill="#000" />
<text x="1633" y="356.5" font-size="12" fill="#000" textLength="38.4" lengthAdjust="spacingAndGlyphs" >3120.0</text>
<rect x="1627" y="401" width="3" height="1" fill="#000" />
<text x="1633" y="405.5" font-size="12" fill="#000" textLength="38.4" lengthAdjust="spacingAndGlyphs" >3063.0</text>
<rect x="1627" y="450" width="3" height="1" fill="#000" />
<text x="1633" y="454.5" font-size="12" fill="#000" textLength="38.4" lengthAdjust="spacingAndGlyphs" >3006.0</text>
<rect x="1628" y="196" width="49" height="14" fill="#ff0000" />
<text x="1633" y="208" font-size="12" fill="#fff" textLength="38.4" lengthAdjust="spacingAndGlyphs" >3293.9</text>
<rect x="1628" y="288" width="49" height="14" fill="#ff0000" />
<text x="1633" y="300" font-size="12" fill="#fff" textLength="38.4" lengthAdjust="spacingAndGlyphs" >3187.5</text>
<rect x="1628" y="343" width="49" height="14" fill="#00ff7f" />
<text x="1633" y="355" font-size="12" fill="#fff" textLength="38.4" lengthAdjust="spacingAndGlyphs" >3123.5</text>
<rect x="1628" y="399" width="49" height="14" fill="#0000ff" />
<text x="1633" y="411" font-size="12" fill="#fff" textLength="38.4" lengthAdjust="spacingAndGlyphs" >3058.6</text>
<rect x="1628" y="448" width="49" height="14" fill="#0000ff" />
<text x="1633" y="460" font-size="12" fill="#fff" textLength="38.4" lengthAdjust="spacingAndGlyphs" >3001.6</text>
<rect x="1628" y="493" width="49" height="14" fill="#0000cd" />
<text x="1633" y="505" font-size="12" fill="#fff" textLength="38.4" lengthAdjust="spacingAndGlyphs" >2949.2</text>
<rect x="1628" y="507" width="49" height="14" fill="#008000" />
<text x="1633" y="519" font-size="12" fill="#fff" textLength="38.4" lengthAdjust="spacingAndGlyphs" >2933.8</text>
<g clip-path="url(#cd)">
<rect x="15" y="544" width="1" height="3" fill="#c0c0c0" />
<rect x="23" y="539" width="1" height="8" fill="#c0c0c0" />
<rect x="31" y="536" width="1" height="11" fill="#c0c0c0" />
<rect x="39" y="534" width="1" height="13" fill="#c0c0c0" />
<rect x="47" y="532" width="1" height="15" fill="#c0c0c0" />
<rect x="55" y="531" width="1" height="16" fill="#c0c0c0" />
<rect x="63" y="531" width="1" height="16" fill="#c0c0c0" />
<rect x="71" y="531" width="1" height="16" fill="#c0c0c0" />
<rect x="79" y="531" width="1" height="16" fill="#c0c0c0" />
<rect x="87" y="525" width="1" height="22" fill="#c0c0c0" />
<rect x="95" y="534" width="1" height="13" fill="#c0c0c0" />
<rect x="103" y="537" width="1" height="10" fill="#c0c0c0" />
<rect x="111" y="537" width="1" height="10" fill="#c0c0c0" />
<rect x="119" y="541" width="1" height="6" fill="#c0c0c0" />
<rect x="127" y="544" width="1" height="3" fill="#c0c0c0" />
<rect x="135" y="546" width="1" height="1" fill="#c0c0c0" />
<rect x="143" y="546" width="1" height="6" fill="#c0c0c0" />
<rect x="151" y="546" width="1" height="13" fill="#c0c0c0" />
<rect x="159" y="546" width="1" height="18" fill="#c0c0c0" />
<rect x="167" y="546" width="1" height="20" fill="#c0c0c0" />
<rect x="175" y="546" width="1" height="22" fill="#c0c0c0" />
<rect x="183" y="546" width="1" height="24" fill="#c0c0c0" />
<rect x="191" y="546" width="1" height="24" fill="#c0c0c0" />
<rect x="199" y="546" width="1" height="26" fill="#c0c0c0" />
<rect x="207" y="546" width="1" height="28" fill="#c0c0c0" />
<rect x="215" y="546" width="1" height="28" fill="#c0c0c0" />
<rect x="223" y="546" width="1" height="29" fill="#c0c0c0" />
<rect x="231" y="546" width="1" height="31" fill="#c0c0c0" />
<rect x="239" y="546" width="1" height="30" fill="#c0c0c0" />
<rect x="247" y="546" width="1" height="29" fill="#c0c0c0" />
<rect x="255" y="546" width="1" height="23" fill="#c0c0c0" />
<rect x="263" y="546" width="1" height="16" fill="#c0c0c0" />
<rect x="271" y="546" width="1" height="12" fill="#c0c0c0" />
<rect x="279" y="546" width="1" height="11" fill="#c0c0c0" />
<rect x="287" y="546" width="1" height="8" fill="#c0c0c0" />
<rect x="295" y="546" width="1" height="7" fill="#c0c0c0" />
<rect x="303" y="546" width="1" height="9" fill="#c0c0c0" />
<rect x="311" y="546" width="1" height="8" fill="#c0c0c0" />
<rect x="319" y="546" width="1" height="8" fill="#c0c0c0" />
<rect x="327" y="546" width="1" height="8" fill="#c0c0c0" />
<rect x="335" y="546" width="1" height="10" fill="#c0c0c0" />
<rect x="343" y="546" width="1" height="13" fill="#c0c0c0" />
<rect x="351" y="546" width="1" height="14" fill="#c0c0c0" />
<rect x="359" y="546" width="1" height="14" fill="#c0c0c0" />
<rect x="367" y="546" width="1" height="12" fill="#c0c0c0" />
<rect x="375" y="546" width="1" height="11" fill="#c0c0c0" />
<rect x="383" y="546" width="1" height="8" fill="#c0c0c0" />
<rect x="391" y="546" width="1" height="7" fill="#c0c0c0" />
<rect x="399" y="546" width="1" height="2" fill="#c0c0c0" />
<rect x="407" y="544" width="1" height="3" fill="#c0c0c0" />
<rect x="415" y="542" width="1" height="5" fill="#c0c0c0" />
<rect x="423" y="540" width="1" height="7" fill="#c0c0c0" />
<rect x="431" y="540" width="1" height="7" fill="#c0c0c0" />
<rect x="439" y="540" width="1" height="7" fill="#c0c0c0" />
<rect x="447" y="539" width="1" height="8" fill="#c0c0c0" />
<rect x="455" y="539" width="1" height="8" fill="#c0c0c0" />
<rect x="463" y="539" width="1" height="8" fill="#c0c0c0" />
<rect x="471" y="539" width="1" height="8" fill="#c0c0c0" />
<rect x="479" y="542" width="1" height="5" fill="#c0c0c0" />
<rect x="487" y="544" width="1" height="3" fill="#c0c0c0" />
<rect x="495" y="546" width="1" height="1" fill="#c0c0c0" />
<rect x="503" y="546" width="1" height="1" fill="#c0c0c0" />
<rect x="511" y="546" width="1" height="1" fill="#c0c0c0" />
<rect x="519" y="544" width="1" height="3" fill="#c0c0c0" />
<rect x="527" y="544" width="1" height="3" fill="#c0c0c0" />
<rect x="535" y="544" width="1" height="3" fill="#c0c0c0" />
<rect x="543" y="545" width="1" height="2" fill="#c0c0c0" />
<rect x="551" y="544" width="1" height="3" fill="#c0c0c0" />
<rect x="559" y="542" width="1" height="5" fill="#c0c0c0" />
<rect x="567" y="541" width="1" height="6" fill="#c0c0c0" />
<rect x="575" y="540" width="1" height="7" fill="#c0c0c0" />
<rect x="583" y="538" width="1" height="9" fill="#c0c0c0" />
<rect x="591" y="539" width="1" height="8" fill="#c0c0c0" />
<rect x="599" y="541" width="1" height="6" fill="#c0c0c0" />
<rect x="607" y="541" width="1" height="6" fill="#c0c0c0" />
<rect x="615" y="542" width="1" height="5" fill="#c0c0c0" />
<rect x="623" y="545" width="1" height="2" fill="#c0c0c0" />
<rect x="631" y="546" width="1" height="1" fill="#c0c0c0" />
<rect x="639" y="546" width="1" height="1" fill="#c0c0c0" />
<rect x="647" y="546" width="1" height="5" fill="#c0c0c0" />
<rect x="655" y="546" width="1" height="7" fill="#c0c0c0" />
<rect x="663" y="546" width="1" height="9" fill="#c0c0c0" />
<rect x="671" y="546" width="1" height="10" fill="#c0c0c0" />
<rect x="679" y="546" width="1" height="12" fill="#c0c0c0" />
<rect x="687" y="546" width="1" height="11" fill="#c0c0c0" />
<rect x="695" y="546" width="1" height="11" fill="#c0c0c0" />
<rect x="703" y="546" width="1" height="9" fill="#c0c0c0" />
<rect x="711" y="546" width="1" height="10" fill="#c0c0c0" />
<rect x="719" y="546" width="1" height="10" fill="#c0c0c0" />
<rect x="727" y="546" width="1" height="10" fill="#c0c0c0" />
<rect x="735" y="546" width="1" height="5" fill="#c0c0c0" />
<rect x="743" y="546" width="1" height="1" fill="#c0c0c0" />
<rect x="751" y="545" width="1" height="2" fill="#c0c0c0" />
<rect x="759" y="543" width="1" height="4" fill="#c0c0c0" />
<rect x="767" y="541" width="1" height="6" fill="#c0c0c0" />
<rect x="775" y="540" width="1" height="7" fill="#c0c0c0" />
<rect x="783" y="542" width="1" height="5" fill="#c0c0c0" />
<rect x="791" y="544" width="1" height="3" fill="#c0c0c0" />
<rect x="799" y="544" width="1" height="3" fill="#c0c0c0" />
<rect x="807" y="546" width="1" height="1" fill="#c0c0c0" />
<rect x="815" y="546" width="1" height="1" fill="#c0c0c0" />
<rect x="823" y="546" width="1" height="4" fill="#c0c0c0" />
<rect x="831" y="546" width="1" height="6" fill="#c0c0c0" />
<rect x="839" y="546" width="1" height="6" fill="#c0c0c0" />
<rect x="847" y="546" width="1" height="6" fill="#c0c0c0" />
<rect x="855" y="546" width="1" height="6" fill="#c0c0c0" />
<rect x="863" y="546" width="1" height="1" fill="#c0c0c0" />
<rect x="871" y="546" width="1" height="1" fill="#c0c0c0" />
<rect x="879" y="546" width="1" height="1" fill="#c0c0c0" />
<rect x="887" y="546" width="1" height="1" fill="#c0c0c0" />
<rect x="895" y="546" width="1" height="4" fill="#c0c0c0" />
<rect x="903" y="546" width="1" height="5" fill="#c0c0c0" />
<rect x="911" y="546" width="1" height="6" fill="#c0c0c0" />
<rect x="919" y="546" width="1" height="7" fill="#c0c0c0" />
<rect x="927" y="546" width="1" height="8" fill="#c0c0c0" />
<rect x="935" y="546" width="1" height="10" fill="#c0c0c0" />
<rect x="943" y="546" width="1" height="12" fill="#c0c0c0" />
<rect x="951" y="546" width="1" height="15" fill="#c0c0c0" />
<rect x="959" y="546" width="1" height="18" fill="#c0c0c0" />
<rect x="967" y="546" width="1" height="20" fill="#c0c0c0" />
<rect x="975" y="546" width="1" height="21" fill="#c0c0c0" />
<rect x="983" y="546" width="1" height="22" fill="#c0c0c0" />
<rect x="991" y="546" width="1" height="25" fill="#c0c0c0" />
<rect x="999" y="546" width="1" height="25" fill="#c0c0c0" />
<rect x="1007" y="546" width="1" height="25" fill="#c0c0c0" />
<rect x="1015" y="546" width="1" height="23" fill="#c0c0c0" />
<rect x="1023" y="546" width="1" height="22" fill="#c0c0c0" />
<rect x="1031" y="546" width="1" height="23" fill="#c0c0c0" />
<rect x="1039" y="546" width="1" height="23" fill="#c0c0c0" />
<rect x="1047" y="546" width="1" height="22" fill="#c0c0c0" />
<rect x="1055" y="546" width="1" height="22" fill="#c0c0c0" />
<rect x="1063" y="546" width="1" height="22" fill="#c0c0c0" />
<rect x="1071" y="546" width="1" height="22" fill="#c0c0c0" />
<rect x="1079" y="546" width="1" height="22" fill="#c0c0c0" />
<rect x="1087" y="546" width="1" height="22" fill="#c0c0c0" />
<rect x="1095" y="546" width="1" height="21" fill="#c0c0c0" />
<rect x="1103" y="546" width="1" height="20" fill="#c0c0c0" />
<rect x="1111" y="546" width="1" height="17" fill="#c0c0c0" />
<rect x="1119" y="546" width="1" height="14" fill="#c0c0c0" />
<rect x="1127" y="546" width="1" height="11" fill="#c0c0c0" />
<rect x="1135" y="546" width="1" height="9" fill="#c0c0c0" />
<rect x="1143" y="546" width="1" height="8" fill="#c0c0c0" />
<rect x="1151" y="546" width="1" height="4" fill="#c0c0c0" />
<rect x="1159" y="546" width="1" height="1" fill="#c0c0c0" />
<rect x="1167" y="546" width="1" height="1" fill="#c0c0c0" />
<rect x="1175" y="545" width="1" height="2" fill="#c0c0c0" />
<rect x="1183" y="544" width="1" height="3" fill="#c0c0c0" />
<rect x="1191" y="543" width="1" height="4" fill="#c0c0c0" />
<rect x="1199" y="543" width="1" height="4" fill="#c0c0c0" />
<rect x="1207" y="543" width="1" height="4" fill="#c0c0c0" />
<rect x="1215" y="542" width="1" height="5" fill="#c0c0c0" />
<rect x="1223" y="540" width="1" height="7" fill="#c0c0c0" />
<rect x="1231" y="539" width="1" height="8" fill="#c0c0c0" />
<rect x="1239" y="538" width="1" height="9" fill="#c0c0c0" />
<rect x="1247" y="537" width="1" height="10" fill="#c0c0c0" />
<rect x="1255" y="537" width="1" height="10" fill="#c0c0c0" />
<rect x="1263" y="536" width="1" height="11" fill="#c0c0c0" />
<rect x="1271" y="535" width="1" height="12" fill="#c0c0c0" />
<rect x="1279" y="533" width="1" height="14" fill="#c0c0c0" />
<rect x="1287" y="532" width="1" height="15" fill="#c0c0c0" />
<polyline points="7,556.4 20,553.6 30,550.3 40,545.7 50,542 60,536.9 70,532 85,529.3 100,528.3 120,529.3 135,532 150,537.9 165,545 180,552 195,560 210,565.4 225,570 240,573.6 265.7,572.1 282.9,567.9 297,563.6 311.4,559.3 318.6,556.4 332.9,554.7 354.3,554.6 382.9,556.4 397,555.4 411.4,553.6 425.7,549.3 440,545.7 454.3,543.6 468.6,540 480,539.3 522.9,542.6 544.3,544.6 565.7,543.6 580,542.1 602.9,540.7 627,540.7 644.3,543.1 662.9,546.4 680,550.3 701.4,554.3 720,555.4 738.6,555.4 755.7,552.9 767,548.6 781.4,546.1 791.4,544.6 798.6,543.6 827,543.6 841.4,545.7 855.7,548.3 862.9,549.6 891.4,549.6 927,549.6 934,550.4 948.6,552.1 960,554.7 974.3,557.9 988.6,561.4 1002.9,564.6 1017,567.6 1038.6,569.3 1067,569.3 1081.4,567.9 1102.9,567.1 1124.3,564.6 1145.7,560.3 1160,556.9 1174.3,552.1 1188.6,548.3 1204.3,546.4 1218.6,544.3 1232.9,542.1 1247,540.4 1261.4,539 1275.7,537.4 1287,535" fill="none" stroke="#ff0000" stroke-width="1" stroke-dasharray="3,3"/>
</g>
<text x="11.4" y="535.7" font-size="12" fill="#000" textLength="155.6" lengthAdjust="spacingAndGlyphs" >MACD(12,26,9) 32.08 22.47</text>
<text x="1630.5" y="533.3" font-size="12" fill="#000" textLength="30" lengthAdjust="spacingAndGlyphs" >51.14</text>
<text x="1630.5" y="551.0" font-size="12" fill="#000" textLength="24" lengthAdjust="spacingAndGlyphs" >0.00</text>
<text x="1630.5" y="577.0" font-size="12" fill="#000" textLength="28.5" lengthAdjust="spacingAndGlyphs" >-68.3</text>
<g clip-path="url(#cr)">
<line x1="8" y1="620.5" x2="1626" y2="620.5" stroke="#c0c0c0" stroke-dasharray="3,3"/>
<line x1="8" y1="670.5" x2="1626" y2="670.5" stroke="#c0c0c0" stroke-dasharray="3,3"/>
<polyline points="7,633.4 15,624.2 23,616.3 31,628.1 39,627.1 47,621.2 55,624.8 63,628.1 71,628.1 79,623.6 87,623.2 95,648.3 103,653.6 111,650.3 119,653.6 127,654.2 135,652.2 143,666.4 151,671.3 159,662.8 167,661.1 175,662.4 183,665.4 191,665.4 199,666.4 207,666.4 215,664.4 223,668.3 231,671.3 239,669.3 247,653.6 255,634.6 263,633.4 271,643.2 279,648.3 287,640.5 295,647.1 303,650.3 311,645.4 319,649.1 327,649.7 335,653.6 343,658.1 351,653.6 359,653.6 367,648.7 375,647.1 383,639.3 391,645.2 399,636.9 407,631.4 415,638.9 423,637.3 431,643.2 439,640.5 447,638.3 455,643.8 463,640.5 471,643.8 479,648.7 487,650.3 495,646.4 503,645.8 511,643.8 519,640.5 527,641.2 535,646.4 543,642.8 551,639.3 559,634.6 567,639.3 575,636.5 583,634.6 591,646.4 599,646.4 607,646.4 615,646.4 623,651.1 631,647.7 639,655 647,658.9 655,655.2 663,658.1 671,655.2 679,658.5 687,648.3 695,649.1 703,647.3 711,655 719,651.3 727,648.7 735,631.4 743,635.4 751,634.4 759,633 767,633 775,636.9 783,648.3 791,649.1 799,649.1 807,651.1 815,656.2 823,656.2 831,654.2 839,652.6 847,652.2 855,650.3 863,634 871,637.9 879,645.4 887,650.1 895,651.1 903,650.1 911,658.1 919,658.1 927,658.5 935,665.4 943,669.3 951,665.4 959,671.3 967,670.3 975,669.3 983,669.3 991,677.8 999,662.1 1007,663.4 1015,664.4 1023,658.5 1031,663.4 1039,660.1 1047,662.1 1055,662.1 1063,662.4 1071,666 1079,667.4 1087,666.4 1095,667.4 1103,646.4 1111,643.8 1119,643.2 1127,642.4 1135,641.8 1143,641.2 1151,627.5 1159,638.9 1167,635.4 1175,639.3 1183,638.3 1191,634 1199,642.4 1207,642.4 1215,632.6 1223,630.6 1231,631.4 1239,630.1 1247,627.1 1255,637.3 1263,630.6 1271,627.5 1279,623.2 1287,625.5" fill="none" stroke="#1e90ff" stroke-width="1" />
</g>
<text x="11.2" y="598" font-size="12" fill="#000" textLength="91.3" lengthAdjust="spacingAndGlyphs" >RSI(14) 66.0826</text>
<text x="1630.5" y="596.0" font-size="12" fill="#000" textLength="20" lengthAdjust="spacingAndGlyphs" >100</text>
<text x="1630.5" y="624.9" font-size="12" fill="#000" textLength="12.6" lengthAdjust="spacingAndGlyphs" >70</text>
<text x="1630.5" y="674.9" font-size="12" fill="#000" textLength="12.6" lengthAdjust="spacingAndGlyphs" >30</text>
<text x="1630.5" y="703.8" font-size="12" fill="#000" textLength="6.3" lengthAdjust="spacingAndGlyphs" >0</text>
<rect x="7" y="708" width="1" height="3" fill="#000" />
<text x="5.65" y="723" font-size="12" fill="#000" textLength="71.75" lengthAdjust="spacingAndGlyphs" >20 Sep 2018</text>
<rect x="103" y="708" width="1" height="3" fill="#000" />
<text x="101.4" y="723" font-size="12" fill="#000" textLength="67.75" lengthAdjust="spacingAndGlyphs" >8 Oct 05:00</text>
<rect x="199" y="708" width="1" height="3" fill="#000" />
<text x="198.15" y="723" font-size="12" fill="#000" textLength="74.0" lengthAdjust="spacingAndGlyphs" >16 Oct 05:00</text>
<rect x="295" y="708" width="1" height="3" fill="#000" />
<text x="293.9" y="723" font-size="12" fill="#000" textLength="74.0" lengthAdjust="spacingAndGlyphs" >24 Oct 05:00</text>
<rect x="391" y="708" width="1" height="3" fill="#000" />
<text x="389.9" y="723" font-size="12" fill="#000" textLength="68.0" lengthAdjust="spacingAndGlyphs" >1 Nov 05:00</text>
<rect x="487" y="708" width="1" height="3" fill="#000" />
<text x="485.65" y="723" font-size="12" fill="#000" textLength="68.5" lengthAdjust="spacingAndGlyphs" >9 Nov 05:00</text>
<rect x="583" y="708" width="1" height="3" fill="#000" />
<text x="581.9" y="723" font-size="12" fill="#000" textLength="74.75" lengthAdjust="spacingAndGlyphs" >19 Nov 05:00</text>
<rect x="679" y="708" width="1" height="3" fill="#000" />
<text x="677.4" y="723" font-size="12" fill="#000" textLength="75.5" lengthAdjust="spacingAndGlyphs" >27 Nov 05:00</text>
<rect x="775" y="708" width="1" height="3" fill="#000" />
<text x="773.9" y="723" font-size="12" fill="#000" textLength="67.75" lengthAdjust="spacingAndGlyphs" >5 Dec 05:00</text>
<rect x="871" y="708" width="1" height="3" fill="#000" />
<text x="869.9" y="723" font-size="12" fill="#000" textLength="75.0" lengthAdjust="spacingAndGlyphs" >13 Dec 05:00</text>
<rect x="967" y="708" width="1" height="3" fill="#000" />
<text x="965.65" y="723" font-size="12" fill="#000" textLength="75.25" lengthAdjust="spacingAndGlyphs" >21 Dec 05:00</text>
<rect x="1063" y="708" width="1" height="3" fill="#000" />
<text x="1061.9" y="723" font-size="12" fill="#000" textLength="74.75" lengthAdjust="spacingAndGlyphs" >31 Dec 05:00</text>
<rect x="1159" y="708" width="1" height="3" fill="#000" />
<text x="1157.4" y="723" font-size="12" fill="#000" textLength="65.5" lengthAdjust="spacingAndGlyphs" >9 Jan 05:00</text>
<rect x="1255" y="708" width="1" height="3" fill="#000" />
<text x="1253.9" y="723" font-size="12" fill="#000" textLength="72.0" lengthAdjust="spacingAndGlyphs" >17 Jan 05:00</text>
</svg>
</body></html>
